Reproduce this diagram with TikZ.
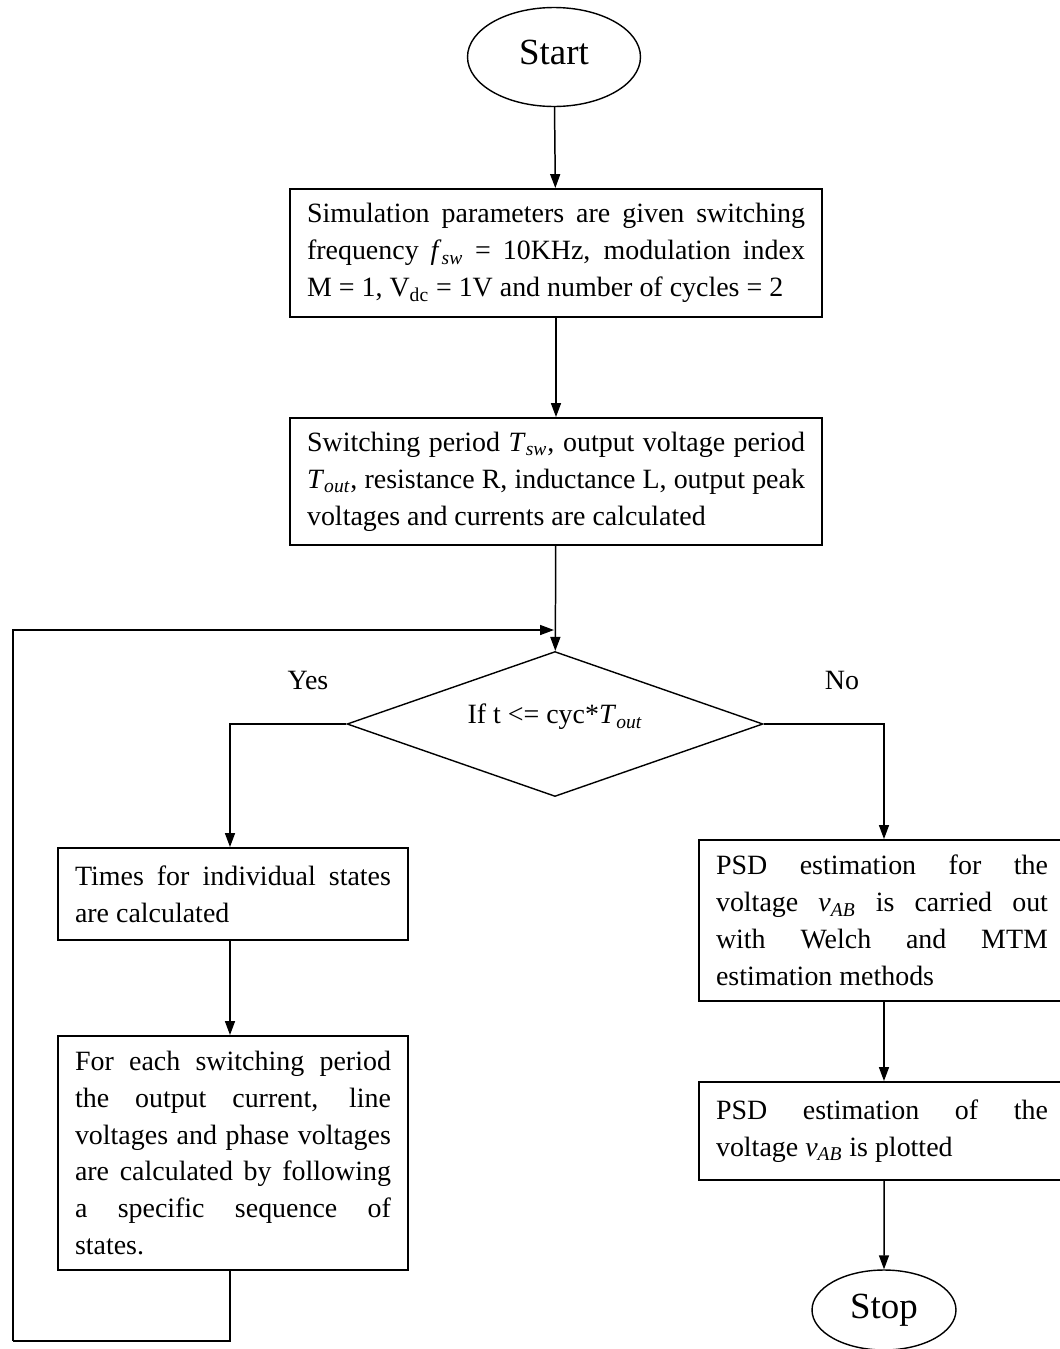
\documentclass[tikz,border=0pt]{standalone}
\usepackage{fontspec}
\setmainfont{Liberation Serif}
\usetikzlibrary{shapes.geometric,arrows.meta}
\newcommand{\vsub}[2]{\textit{#1}\textsubscript{\textit{#2}}}
\tikzset{
  box/.style={draw,line width=1.1pt,align=justify,inner xsep=0.34cm,
    font=\fontsize{15.9}{21}\selectfont},
  term/.style={draw,ellipse,line width=0.8pt,inner sep=0pt,
    font=\fontsize{21}{25}\selectfont},
  decide/.style={draw,diamond,aspect=2.87,line width=0.8pt,inner sep=0pt,
    font=\fontsize{15.9}{21}\selectfont},
  arr/.style={line width=0.85pt,-{Triangle[length=0.28cm,width=0.2cm]}},
  lbl/.style={font=\fontsize{15.9}{21}\selectfont}
}
\begin{document}
\begin{tikzpicture}[x=0.02cm,y=-0.02cm]
            \useasboundingbox (0,0) rectangle (1060,1349);
            \node[term,minimum width=3.46cm,minimum height=1.98cm] (start) at (554,57) {\raisebox{0.2cm}{Start}};
            \node[box,text width=9.96cm,minimum height=2.56cm] (par) at (556,253)
              {Simulation parameters are given switching\linebreak
               frequency \vsub{f}{sw} = 10KHz, modulation index\linebreak
               M = 1, V\textsubscript{dc} = 1V and number of cycles = 2};
            \node[box,text width=9.96cm,minimum height=2.54cm] (calc) at (556,481.5)
              {Switching period \vsub{T}{sw}, output voltage period\linebreak
               \vsub{T}{out}, resistance R, inductance L, output peak\linebreak
               voltages and currents are calculated};
            \node[decide,minimum width=8.32cm,minimum height=2.9cm] (test) at (555,724)
              {\raisebox{0.4cm}{If t <= cyc*\vsub{T}{out}}};
            \node[lbl] (yes) at (308,680) {Yes};
            \node[lbl] (no) at (842,680) {No};
            \node[box,text width=6.32cm,minimum height=1.84cm] (times) at (233,894)
              {Times for individual states\linebreak are calculated};
            \node[box,text width=6.32cm,minimum height=4.68cm] (seq) at (233,1153)
              {For each switching period\linebreak
               the output current, line\linebreak
               voltages and phase voltages\linebreak
               are calculated by following\linebreak
               a specific sequence of\linebreak
               states.};
            \node[box,text width=6.64cm,minimum height=3.22cm] (psd) at (882,920.5)
              {PSD estimation for the\linebreak
               voltage \vsub{v}{AB} is carried out\linebreak
               with Welch and MTM\linebreak
               estimation methods};
            \node[box,text width=6.64cm,minimum height=1.96cm] (plot) at (882,1131)
              {PSD estimation of the\linebreak
               voltage \vsub{v}{AB} is plotted};
            \node[term,minimum width=2.88cm,minimum height=1.6cm] (stop) at (884,1310) {Stop};
            \coordinate (join) at (554,630);
            \coordinate (loop) at (13,1341);
            \draw[arr] (start) -- (par);
            \draw[arr] (par) -- (calc);
            \draw[arr] (calc) -- (test);
            \draw[arr] (test.west) -| ([xshift=-0.06cm]times.north);
            \draw[arr] ([xshift=-0.06cm]times.south) -- ([xshift=-0.06cm]seq.north);
            \draw[line width=0.85pt] ([xshift=-0.06cm]seq.south) |- (loop);
            \draw[arr] (loop) |- (join);
            \draw[arr] (test.east) -| ([xshift=0.04cm]psd.north);
            \draw[arr] ([xshift=0.04cm]psd.south) -- ([xshift=0.04cm]plot.north);
            \draw[arr] ([xshift=0.04cm]plot.south) -- (stop);
        \end{tikzpicture}
\end{document}
